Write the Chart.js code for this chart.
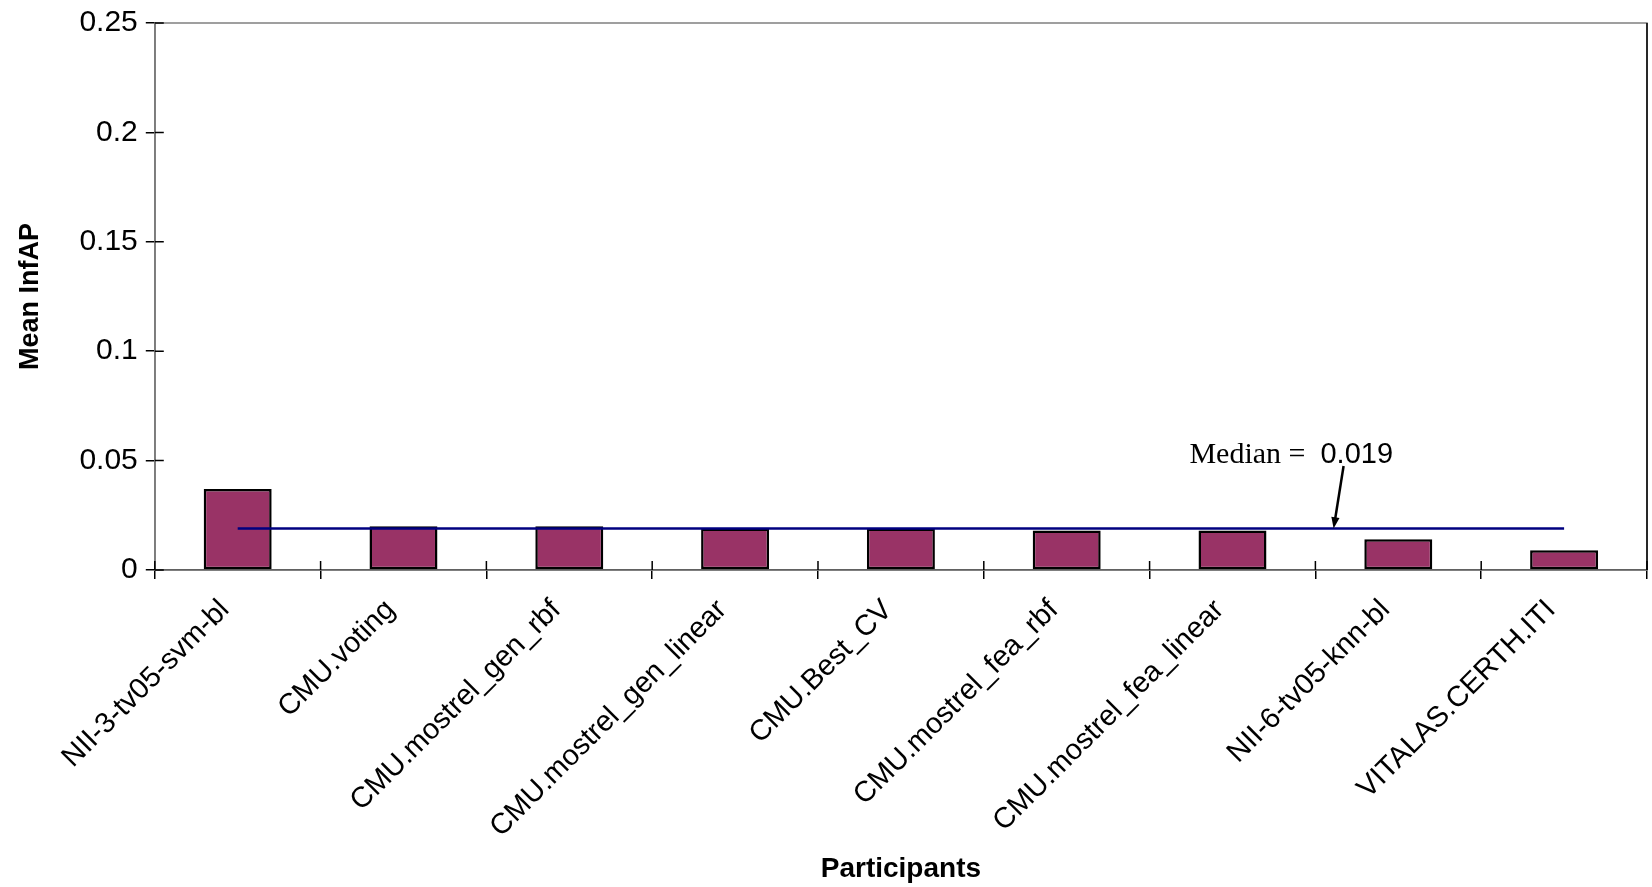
<!DOCTYPE html>
<html>
<head>
<meta charset="utf-8">
<title>Mean InfAP by participant</title>
<script src="https://cdn.jsdelivr.net/npm/chart.js@4.4.0/dist/chart.umd.min.js"></script>
<style>
    body { margin: 0; background: #fff; }
    #wrap { width: 1652px; height: 887px; position: relative; }
</style>
</head>
<body>
<div id="wrap"><canvas id="infapChart"></canvas></div>
<script>
// data
const participants = [
    'NII-3-tv05-svm-bl',
    'CMU.voting',
    'CMU.mostrel_gen_rbf',
    'CMU.mostrel_gen_linear',
    'CMU.Best_CV',
    'CMU.mostrel_fea_rbf',
    'CMU.mostrel_fea_linear',
    'NII-6-tv05-knn-bl',
    'VITALAS.CERTH.ITI'
];
const meanInfAP = [0.037, 0.020, 0.020, 0.019, 0.019, 0.018, 0.018, 0.014, 0.009];
const medianValue = 0.019;
const yTicks = [0, 0.05, 0.1, 0.15, 0.2, 0.25];

// where the median note sits, in axis units (category index, value)
const noteText = { at: [5.74, 0.049] };
const noteArrow = { from: [6.67, 0.0475], to: [6.61, 0.019] };

const sans = "'Liberation Sans', Arial, sans-serif";
const serif = "'Liberation Serif', 'Times New Roman', serif";

// plot frame + inner half of the tick marks
const framePlugin = {
    id: 'frame',
    beforeDatasetsDraw(chart) {
        const { ctx, chartArea } = chart;
        ctx.save();
        ctx.strokeStyle = '#808080';
        ctx.lineWidth = 1.5;
        ctx.strokeRect(chartArea.left, chartArea.top, chartArea.right - chartArea.left, chartArea.bottom - chartArea.top);
        ctx.strokeStyle = '#000';
        ctx.beginPath();
        ctx.moveTo(chartArea.right, chartArea.top);
        ctx.lineTo(chartArea.right, chartArea.bottom);
        ctx.stroke();
        ctx.restore();
    },
    afterDraw(chart) {
        const { ctx, chartArea } = chart;
        const x = chart.scales.x, y = chart.scales.y;
        ctx.save();
        ctx.strokeStyle = '#000';
        ctx.lineWidth = 1.5;
        ctx.beginPath();
        y.ticks.forEach((t, i) => {
            const py = y.getPixelForTick(i);
            ctx.moveTo(chartArea.left, py);
            ctx.lineTo(chartArea.left + 9, py);
        });
        for (let i = 0; i <= participants.length; i++) {
            const px = x.getPixelForValue(i - 0.5);
            ctx.moveTo(px, chartArea.bottom);
            ctx.lineTo(px, chartArea.bottom - 9);
        }
        ctx.stroke();
        ctx.restore();
    }
};

const medianNotePlugin = {
    id: 'medianNote',
    afterDatasetsDraw(chart) {
        const { ctx } = chart;
        const x = chart.scales.x, y = chart.scales.y;
        const tx = x.getPixelForValue(noteText.at[0]);
        const ty = y.getPixelForValue(noteText.at[1]);
        ctx.save();
        ctx.fillStyle = '#000';
        ctx.textBaseline = 'alphabetic';
        ctx.textAlign = 'left';
        ctx.font = '30px ' + serif;
        const first = 'Median =  ';
        ctx.fillText(first, tx, ty);
        const w = ctx.measureText(first).width;
        ctx.font = '29px ' + sans;
        ctx.fillText(medianValue.toFixed(3), tx + w, ty);

        const x1 = x.getPixelForValue(noteArrow.from[0]);
        const y1 = y.getPixelForValue(noteArrow.from[1]);
        const x2 = x.getPixelForValue(noteArrow.to[0]);
        const y2 = y.getPixelForValue(noteArrow.to[1]);
        const ang = Math.atan2(y2 - y1, x2 - x1);
        const head = 12;
        ctx.strokeStyle = '#000';
        ctx.lineWidth = 2.5;
        ctx.beginPath();
        ctx.moveTo(x1, y1);
        ctx.lineTo(x2 - Math.cos(ang) * head * 0.8, y2 - Math.sin(ang) * head * 0.8);
        ctx.stroke();
        ctx.beginPath();
        ctx.moveTo(x2, y2);
        ctx.lineTo(x2 - head * Math.cos(ang - 0.35), y2 - head * Math.sin(ang - 0.35));
        ctx.lineTo(x2 - head * Math.cos(ang + 0.35), y2 - head * Math.sin(ang + 0.35));
        ctx.closePath();
        ctx.fill();
        ctx.restore();
    }
};

const ctx = document.getElementById('infapChart').getContext('2d');
new Chart(ctx, {
    data: {
        labels: participants,
        datasets: [
            {
                type: 'line',
                label: 'Median',
                data: participants.map(() => medianValue),
                borderColor: '#000080',
                borderWidth: 2.5,
                pointRadius: 0,
                fill: false,
                order: 0
            },
            {
                type: 'bar',
                label: 'Mean InfAP',
                data: meanInfAP,
                backgroundColor: '#993366',
                borderColor: '#000',
                borderWidth: 2.5,
                borderSkipped: false,
                categoryPercentage: 0.82,
                barPercentage: 0.5,
                order: 1
            }
        ]
    },
    options: {
        responsive: true,
        maintainAspectRatio: false,
        animation: false,
        layout: { padding: { top: 0, right: 5, left: 0, bottom: 0 } },
        plugins: {
            legend: { display: false },
            tooltip: { enabled: false }
        },
        scales: {
            x: {
                offset: true,
                grid: {
                    offset: true,
                    drawOnChartArea: false,
                    tickLength: 9,
                    color: '#000',
                    lineWidth: 1.5
                },
                border: { color: '#000', width: 1.5 },
                ticks: {
                    autoSkip: false,
                    minRotation: 45,
                    maxRotation: 45,
                    padding: 14,
                    labelOffset: -13,
                    color: '#000',
                    font: { family: sans, size: 29 }
                },
                title: {
                    display: true,
                    text: 'Participants',
                    color: '#000',
                    font: { family: sans, size: 28, weight: 'bold' },
                    padding: { top: -6, bottom: 1 }
                }
            },
            y: {
                min: 0,
                max: 0.25,
                afterBuildTicks: scale => {
                    scale.ticks = yTicks.map(v => ({ value: v }));
                },
                grid: {
                    drawOnChartArea: false,
                    tickLength: 9,
                    color: '#000',
                    lineWidth: 1.5
                },
                border: { color: '#000', width: 1.5 },
                ticks: {
                    padding: 8,
                    color: '#000',
                    font: { family: sans, size: 30, lineHeight: 1.0 },
                    callback: v => String(+Number(v).toFixed(2))
                },
                title: {
                    display: true,
                    text: 'Mean InfAP',
                    color: '#000',
                    font: { family: sans, size: 27, weight: 'bold' },
                    padding: { top: 14, bottom: 25 }
                }
            }
        }
    },
    plugins: [framePlugin, medianNotePlugin]
});
</script>
</body>
</html>
